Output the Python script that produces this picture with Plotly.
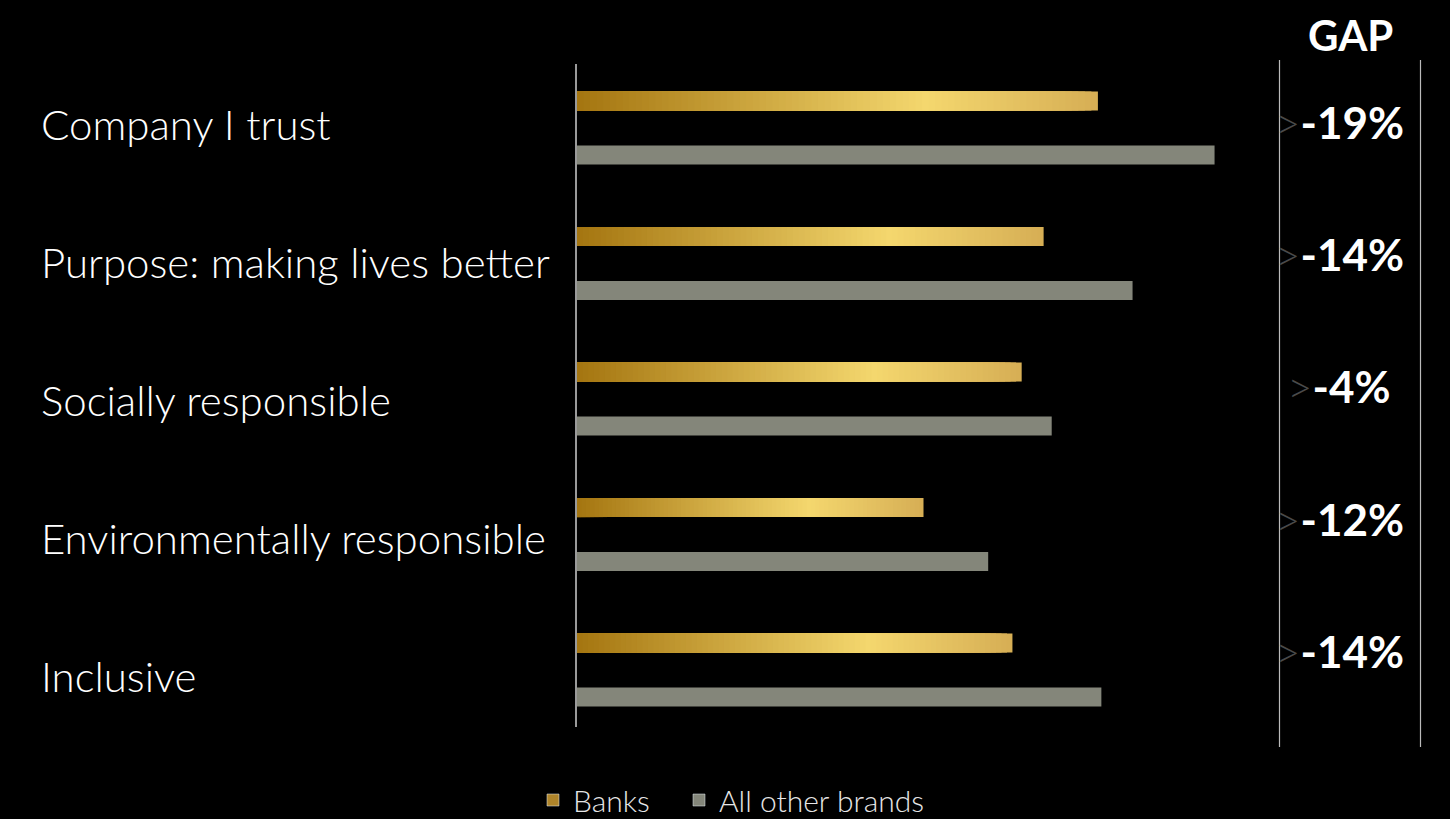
import plotly.graph_objects as go
import numpy as np

categories = ["Company I trust", "Purpose: making lives better", "Socially responsible",
              "Environmentally responsible", "Inclusive"]
banks = [45.1, 40.4, 38.5, 30.0, 37.7]
others = [55.2, 48.1, 41.1, 35.6, 45.4]
gap_labels = ["-19%", "-14%", "-4%", "-12%", "-14%"]
series_names = ["Banks", "All other brands"]

W, H = 1450, 819
FONT = "Lato"
grey_col = "#84867A"
gold_stops = [(0.0, (164, 117, 16)), (0.67, (244, 215, 110)), (1.0, (214, 174, 85))]


def gold_at(t):
    for (t0, c0), (t1, c1) in zip(gold_stops[:-1], gold_stops[1:]):
        if t0 <= t <= t1:
            f = (t - t0) / (t1 - t0)
            c = [round(a + (b - a) * f) for a, b in zip(c0, c1)]
            return f"rgb({c[0]},{c[1]},{c[2]})"
    return "rgb(214,174,85)"


fig = go.Figure()

bar_w = 0.14
gold_off = -0.199 - bar_w / 2
grey_off = 0.199 - bar_w / 2

# gradient gold bars: nested bars from 0, longest (end colour) drawn first
N = 80
banks_arr = np.array(banks)
for i in range(N - 1, -1, -1):
    fig.add_trace(go.Bar(
        y=categories, x=banks_arr * (i + 1) / N, orientation="h",
        width=bar_w, offset=gold_off,
        marker=dict(color=gold_at((i + 0.5) / N), line=dict(width=0)),
        showlegend=False, hoverinfo="skip"))

fig.add_trace(go.Bar(
    y=categories, x=others, orientation="h", width=bar_w, offset=grey_off,
    marker=dict(color=grey_col, line=dict(width=0)), showlegend=False, name=series_names[1]))

# legend entries (two separate legends for exact placement)
fig.add_trace(go.Bar(y=[None], x=[None], orientation="h", name=series_names[0],
                     marker=dict(color="#B0852A"), legend="legend"))
fig.add_trace(go.Bar(y=[None], x=[None], orientation="h", name=series_names[1],
                     marker=dict(color=grey_col), legend="legend2"))

x0 = 577 / W
x1 = 1270 / W
ytop, ybot = 64, 727

# category labels
for i, c in enumerate(categories):
    ypx = 124 + 138.1 * i
    fig.add_annotation(x=39 / W, xref="paper", y=1 - ypx / H, yref="paper", text=c,
                       showarrow=False, xanchor="left", yanchor="middle",
                       font=dict(family=FONT, size=42, color="white", weight=300))

# gap labels
for i, g in enumerate(gap_labels):
    ypx = 122 + 132.2 * i
    fig.add_annotation(x=1339 / W, xref="paper", y=1 - ypx / H, yref="paper",
                       text=f"<span style='color:#4a4a4a;font-weight:300'>&gt;</span><b>{g}</b>",
                       showarrow=False, xanchor="center", yanchor="middle",
                       font=dict(family=FONT, size=44, color="white"))

fig.add_annotation(x=1350 / W, xref="paper", y=1 - 35 / H, yref="paper", text="<b>GAP</b>",
                   showarrow=False, xanchor="center", yanchor="middle",
                   font=dict(family=FONT, size=42, color="white"))

# right panel lines
for xp in (1279.5, 1420.5):
    fig.add_shape(type="line", xref="paper", yref="paper", x0=xp / W, x1=xp / W,
                  y0=1 - 60 / H, y1=1 - 747 / H, line=dict(color="#bbbbbb", width=1.2))

legend_style = dict(orientation="h", xanchor="left", y=1 - 800 / H, yanchor="middle",
                    font=dict(family=FONT, size=30, color="#e6e6e6", weight=300),
                    bgcolor="rgba(0,0,0,0)", itemwidth=30)

fig.update_layout(
    width=W, height=H, paper_bgcolor="black", plot_bgcolor="black",
    margin=dict(l=0, r=0, t=0, b=0, autoexpand=False), barmode="overlay",
    font=dict(family=FONT, color="white"),
    xaxis=dict(domain=[x0, x1], range=[0, 60], visible=False, fixedrange=True),
    yaxis=dict(domain=[1 - ybot / H, 1 - ytop / H], type="category",
               categoryorder="array", categoryarray=categories,
               range=[4.42, -0.472], showticklabels=False, showgrid=False, zeroline=False,
               showline=False, ticks="", fixedrange=True),
    legend=dict(x=533 / W, **legend_style),
    legend2=dict(x=679 / W, **legend_style),
    showlegend=True,
)
fig.add_shape(type="line", xref="paper", yref="paper", x0=576 / W, x1=576 / W,
              y0=1 - ytop / H, y1=1 - ybot / H, line=dict(color="#9a9a9a", width=2))

fig.write_html("out.html", config={"displayModeBar": False},
               post_script="document.body.style.margin='0';document.body.style.background='black';")
